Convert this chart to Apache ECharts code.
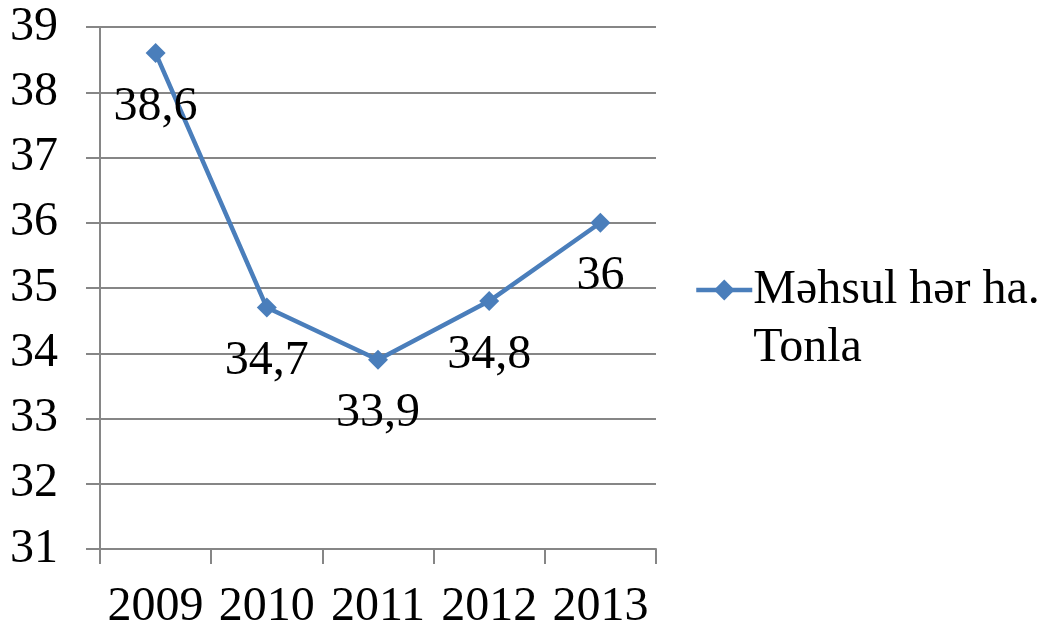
<!DOCTYPE html>
<html><head><meta charset="utf-8">
<script src="https://cdn.jsdelivr.net/npm/echarts@6/dist/echarts.min.js"></script>
<style>html,body{margin:0;padding:0;background:#fff}#c{width:1042px;height:623px}</style>
</head><body><div id="c"></div>
<script>
const categories = ['2009','2010','2011','2012','2013'];
const values = [38.6, 34.7, 33.9, 34.8, 36];
const seriesName = 'Məhsul hər ha. Tonla';
const font = '"Liberation Serif","Times New Roman",serif';
const chart = echarts.init(document.getElementById('c'));
chart.setOption({
  animation: false,
  backgroundColor: '#fff',
  grid: {left: 100, right: 386, top: 27, bottom: 74, containLabel: false, outerBoundsMode: 'none'},
  legend: {
    left: 694, top: 203, orient: 'vertical', padding: 0,
    itemWidth: 56, itemHeight: 26, itemGap: 0,
    lineStyle: {width: 4.5},
    formatter: n => ' \n' + n.replace(' Tonla', '\nTonla'),
    textStyle: {fontFamily: font, fontSize: 48, color: '#000', lineHeight: 58, padding: [0,0,0,-4]}
  },
  xAxis: {
    type: 'category', data: categories, boundaryGap: true,
    axisLine: {lineStyle: {color: '#868686', width: 2}},
    axisTick: {show: true, length: 15, lineStyle: {color: '#868686', width: 2}},
    axisLabel: {fontFamily: font, fontSize: 48, color: '#000', margin: 34, interval: 0}
  },
  yAxis: {
    type: 'value', min: 31, max: 39, interval: 1,
    axisLine: {show: true, lineStyle: {color: '#868686', width: 2}},
    axisTick: {show: true, length: 14, lineStyle: {color: '#868686', width: 2}},
    splitLine: {lineStyle: {color: '#868686', width: 2}},
    axisLabel: {fontFamily: font, fontSize: 48, color: '#000', margin: 42}
  },
  series: [{
    name: seriesName, type: 'line', data: values,
    symbol: 'diamond', symbolSize: 20,
    lineStyle: {color: '#4a7ebb', width: 4.5},
    itemStyle: {color: '#4a7ebb'},
    label: {show: true, position: 'bottom', distance: 20,
      formatter: p => String(p.value).replace('.', ','),
      fontFamily: font, fontSize: 48, color: '#000'}
  }]
});
</script></body></html>
